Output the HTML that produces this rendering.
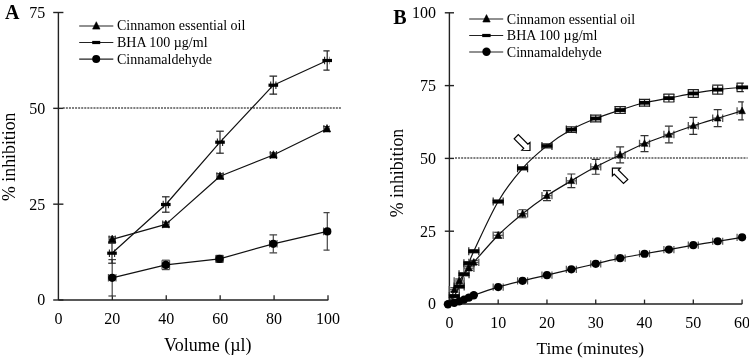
<!DOCTYPE html>
<html><head><meta charset="utf-8"><style>
html,body{margin:0;padding:0;background:#fff;width:749px;height:360px;overflow:hidden}
svg{display:block;will-change:transform}
text{font-family:"Liberation Serif", serif;fill:#000}
</style></head><body>
<svg width="749" height="360" viewBox="0 0 749 360">
<rect width="749" height="360" fill="#fff"/>
<defs><clipPath id="ca"><rect x="0" y="0" width="329.6" height="360"/></clipPath><clipPath id="cb"><rect x="380" y="0" width="363.8" height="360"/></clipPath></defs>
<line x1="58.40" y1="12.50" x2="58.40" y2="300.00" stroke="#222" stroke-width="1.4"/>
<line x1="58.40" y1="300.00" x2="328.30" y2="300.00" stroke="#222" stroke-width="1.4"/>
<line x1="53.20" y1="300.00" x2="63.40" y2="300.00" stroke="#222" stroke-width="1.4"/>
<text x="45.2" y="305.40" font-size="16" text-anchor="end" font-weight="normal" >0</text>
<line x1="53.20" y1="204.17" x2="63.40" y2="204.17" stroke="#222" stroke-width="1.4"/>
<text x="45.2" y="209.57" font-size="16" text-anchor="end" font-weight="normal" >25</text>
<line x1="53.20" y1="108.34" x2="63.40" y2="108.34" stroke="#222" stroke-width="1.4"/>
<text x="45.2" y="113.74" font-size="16" text-anchor="end" font-weight="normal" >50</text>
<line x1="53.20" y1="12.50" x2="63.40" y2="12.50" stroke="#222" stroke-width="1.4"/>
<text x="45.2" y="17.90" font-size="16" text-anchor="end" font-weight="normal" >75</text>
<line x1="112.32" y1="295.30" x2="112.32" y2="300.00" stroke="#222" stroke-width="1.3"/>
<line x1="166.24" y1="295.30" x2="166.24" y2="300.00" stroke="#222" stroke-width="1.3"/>
<line x1="220.16" y1="295.30" x2="220.16" y2="300.00" stroke="#222" stroke-width="1.3"/>
<line x1="274.08" y1="295.30" x2="274.08" y2="300.00" stroke="#222" stroke-width="1.3"/>
<line x1="328.00" y1="295.30" x2="328.00" y2="300.00" stroke="#222" stroke-width="1.3"/>
<text x="58.40" y="324.2" font-size="16" text-anchor="middle" font-weight="normal" >0</text>
<text x="112.32" y="324.2" font-size="16" text-anchor="middle" font-weight="normal" >20</text>
<text x="166.24" y="324.2" font-size="16" text-anchor="middle" font-weight="normal" >40</text>
<text x="220.16" y="324.2" font-size="16" text-anchor="middle" font-weight="normal" >60</text>
<text x="274.08" y="324.2" font-size="16" text-anchor="middle" font-weight="normal" >80</text>
<text x="328.00" y="324.2" font-size="16" text-anchor="middle" font-weight="normal" >100</text>
<line x1="62.80" y1="108.00" x2="341.20" y2="108.00" stroke="#555" stroke-width="1.7" stroke-dasharray="2 1.068"/>
<text x="207.8" y="350.6" font-size="18" text-anchor="middle" font-weight="normal" >Volume (&#181;l)</text>
<text x="0" y="0" font-size="17.8" text-anchor="middle" font-weight="normal" transform="translate(15.4,156.7) rotate(-90)">% inhibition</text>
<text x="5.0" y="18.8" font-size="20" text-anchor="start" font-weight="bold" >A</text>
<g clip-path="url(#ca)"><line x1="112.20" y1="259.60" x2="112.20" y2="296.00" stroke="#444" stroke-width="1.2"/><line x1="108.40" y1="259.60" x2="116.00" y2="259.60" stroke="#444" stroke-width="1.2"/><line x1="108.40" y1="296.00" x2="116.00" y2="296.00" stroke="#444" stroke-width="1.2"/><line x1="165.80" y1="260.20" x2="165.80" y2="269.60" stroke="#444" stroke-width="1.2"/><line x1="162.00" y1="260.20" x2="169.60" y2="260.20" stroke="#444" stroke-width="1.2"/><line x1="162.00" y1="269.60" x2="169.60" y2="269.60" stroke="#444" stroke-width="1.2"/><line x1="219.50" y1="255.40" x2="219.50" y2="262.40" stroke="#444" stroke-width="1.2"/><line x1="215.70" y1="255.40" x2="223.30" y2="255.40" stroke="#444" stroke-width="1.2"/><line x1="215.70" y1="262.40" x2="223.30" y2="262.40" stroke="#444" stroke-width="1.2"/><line x1="273.30" y1="234.80" x2="273.30" y2="252.80" stroke="#444" stroke-width="1.2"/><line x1="269.50" y1="234.80" x2="277.10" y2="234.80" stroke="#444" stroke-width="1.2"/><line x1="269.50" y1="252.80" x2="277.10" y2="252.80" stroke="#444" stroke-width="1.2"/><line x1="327.30" y1="212.60" x2="327.30" y2="250.20" stroke="#444" stroke-width="1.2"/><line x1="323.50" y1="212.60" x2="331.10" y2="212.60" stroke="#444" stroke-width="1.2"/><line x1="323.50" y1="250.20" x2="331.10" y2="250.20" stroke="#444" stroke-width="1.2"/><line x1="112.00" y1="243.20" x2="112.00" y2="263.20" stroke="#222" stroke-width="1.2"/><line x1="108.20" y1="243.20" x2="115.80" y2="243.20" stroke="#222" stroke-width="1.2"/><line x1="108.20" y1="263.20" x2="115.80" y2="263.20" stroke="#222" stroke-width="1.2"/><line x1="165.80" y1="196.80" x2="165.80" y2="212.20" stroke="#222" stroke-width="1.2"/><line x1="162.00" y1="196.80" x2="169.60" y2="196.80" stroke="#222" stroke-width="1.2"/><line x1="162.00" y1="212.20" x2="169.60" y2="212.20" stroke="#222" stroke-width="1.2"/><line x1="220.00" y1="131.20" x2="220.00" y2="153.20" stroke="#222" stroke-width="1.2"/><line x1="216.20" y1="131.20" x2="223.80" y2="131.20" stroke="#222" stroke-width="1.2"/><line x1="216.20" y1="153.20" x2="223.80" y2="153.20" stroke="#222" stroke-width="1.2"/><line x1="273.30" y1="76.20" x2="273.30" y2="94.20" stroke="#222" stroke-width="1.2"/><line x1="269.50" y1="76.20" x2="277.10" y2="76.20" stroke="#222" stroke-width="1.2"/><line x1="269.50" y1="94.20" x2="277.10" y2="94.20" stroke="#222" stroke-width="1.2"/><line x1="327.20" y1="50.90" x2="327.20" y2="70.10" stroke="#222" stroke-width="1.2"/><line x1="323.40" y1="50.90" x2="331.00" y2="50.90" stroke="#222" stroke-width="1.2"/><line x1="323.40" y1="70.10" x2="331.00" y2="70.10" stroke="#222" stroke-width="1.2"/><line x1="112.20" y1="236.90" x2="112.20" y2="241.90" stroke="#333" stroke-width="1.2"/><line x1="108.40" y1="236.90" x2="116.00" y2="236.90" stroke="#333" stroke-width="1.2"/><line x1="108.40" y1="241.90" x2="116.00" y2="241.90" stroke="#333" stroke-width="1.2"/><line x1="165.80" y1="222.20" x2="165.80" y2="226.60" stroke="#333" stroke-width="1.2"/><line x1="162.00" y1="222.20" x2="169.60" y2="222.20" stroke="#333" stroke-width="1.2"/><line x1="162.00" y1="226.60" x2="169.60" y2="226.60" stroke="#333" stroke-width="1.2"/><line x1="220.00" y1="173.70" x2="220.00" y2="178.70" stroke="#333" stroke-width="1.2"/><line x1="216.20" y1="173.70" x2="223.80" y2="173.70" stroke="#333" stroke-width="1.2"/><line x1="216.20" y1="178.70" x2="223.80" y2="178.70" stroke="#333" stroke-width="1.2"/><line x1="273.40" y1="152.80" x2="273.40" y2="157.20" stroke="#333" stroke-width="1.2"/><line x1="269.60" y1="152.80" x2="277.20" y2="152.80" stroke="#333" stroke-width="1.2"/><line x1="269.60" y1="157.20" x2="277.20" y2="157.20" stroke="#333" stroke-width="1.2"/><line x1="327.00" y1="126.60" x2="327.00" y2="131.00" stroke="#333" stroke-width="1.2"/><line x1="323.20" y1="126.60" x2="330.80" y2="126.60" stroke="#333" stroke-width="1.2"/><line x1="323.20" y1="131.00" x2="330.80" y2="131.00" stroke="#333" stroke-width="1.2"/><line x1="109.10" y1="239.40" x2="115.30" y2="239.40" stroke="#333" stroke-width="1.1"/><line x1="109.10" y1="235.50" x2="109.10" y2="243.30" stroke="#333" stroke-width="1.1"/><line x1="115.30" y1="235.50" x2="115.30" y2="243.30" stroke="#333" stroke-width="1.1"/><line x1="162.70" y1="224.40" x2="168.90" y2="224.40" stroke="#333" stroke-width="1.1"/><line x1="162.70" y1="220.50" x2="162.70" y2="228.30" stroke="#333" stroke-width="1.1"/><line x1="168.90" y1="220.50" x2="168.90" y2="228.30" stroke="#333" stroke-width="1.1"/><line x1="216.90" y1="176.20" x2="223.10" y2="176.20" stroke="#333" stroke-width="1.1"/><line x1="216.90" y1="172.30" x2="216.90" y2="180.10" stroke="#333" stroke-width="1.1"/><line x1="223.10" y1="172.30" x2="223.10" y2="180.10" stroke="#333" stroke-width="1.1"/><line x1="270.30" y1="155.00" x2="276.50" y2="155.00" stroke="#333" stroke-width="1.1"/><line x1="270.30" y1="151.10" x2="270.30" y2="158.90" stroke="#333" stroke-width="1.1"/><line x1="276.50" y1="151.10" x2="276.50" y2="158.90" stroke="#333" stroke-width="1.1"/><line x1="323.90" y1="128.80" x2="330.10" y2="128.80" stroke="#333" stroke-width="1.1"/><line x1="323.90" y1="124.90" x2="323.90" y2="132.70" stroke="#333" stroke-width="1.1"/><line x1="330.10" y1="124.90" x2="330.10" y2="132.70" stroke="#333" stroke-width="1.1"/><line x1="109.40" y1="253.20" x2="114.60" y2="253.20" stroke="#222" stroke-width="1.1"/><line x1="109.40" y1="249.50" x2="109.40" y2="256.90" stroke="#222" stroke-width="1.1"/><line x1="114.60" y1="249.50" x2="114.60" y2="256.90" stroke="#222" stroke-width="1.1"/><line x1="163.20" y1="204.50" x2="168.40" y2="204.50" stroke="#222" stroke-width="1.1"/><line x1="163.20" y1="200.80" x2="163.20" y2="208.20" stroke="#222" stroke-width="1.1"/><line x1="168.40" y1="200.80" x2="168.40" y2="208.20" stroke="#222" stroke-width="1.1"/><line x1="217.40" y1="142.20" x2="222.60" y2="142.20" stroke="#222" stroke-width="1.1"/><line x1="217.40" y1="138.50" x2="217.40" y2="145.90" stroke="#222" stroke-width="1.1"/><line x1="222.60" y1="138.50" x2="222.60" y2="145.90" stroke="#222" stroke-width="1.1"/><line x1="270.70" y1="85.20" x2="275.90" y2="85.20" stroke="#222" stroke-width="1.1"/><line x1="270.70" y1="81.50" x2="270.70" y2="88.90" stroke="#222" stroke-width="1.1"/><line x1="275.90" y1="81.50" x2="275.90" y2="88.90" stroke="#222" stroke-width="1.1"/><line x1="324.60" y1="60.50" x2="329.80" y2="60.50" stroke="#222" stroke-width="1.1"/><line x1="324.60" y1="56.80" x2="324.60" y2="64.20" stroke="#222" stroke-width="1.1"/><line x1="329.80" y1="56.80" x2="329.80" y2="64.20" stroke="#222" stroke-width="1.1"/><line x1="108.40" y1="277.80" x2="116.00" y2="277.80" stroke="#555" stroke-width="1.1"/><line x1="108.40" y1="274.00" x2="108.40" y2="281.60" stroke="#555" stroke-width="1.1"/><line x1="116.00" y1="274.00" x2="116.00" y2="281.60" stroke="#555" stroke-width="1.1"/><line x1="162.00" y1="264.90" x2="169.60" y2="264.90" stroke="#555" stroke-width="1.1"/><line x1="162.00" y1="260.20" x2="162.00" y2="269.60" stroke="#555" stroke-width="1.1"/><line x1="169.60" y1="260.20" x2="169.60" y2="269.60" stroke="#555" stroke-width="1.1"/><line x1="215.70" y1="258.90" x2="223.30" y2="258.90" stroke="#555" stroke-width="1.1"/><line x1="215.70" y1="255.30" x2="215.70" y2="262.50" stroke="#555" stroke-width="1.1"/><line x1="223.30" y1="255.30" x2="223.30" y2="262.50" stroke="#555" stroke-width="1.1"/><line x1="269.50" y1="243.80" x2="277.10" y2="243.80" stroke="#555" stroke-width="1.1"/><line x1="269.50" y1="240.00" x2="269.50" y2="247.60" stroke="#555" stroke-width="1.1"/><line x1="277.10" y1="240.00" x2="277.10" y2="247.60" stroke="#555" stroke-width="1.1"/><line x1="323.50" y1="231.40" x2="331.10" y2="231.40" stroke="#555" stroke-width="1.1"/><line x1="323.50" y1="227.60" x2="323.50" y2="235.20" stroke="#555" stroke-width="1.1"/><line x1="331.10" y1="227.60" x2="331.10" y2="235.20" stroke="#555" stroke-width="1.1"/></g>
<polyline points="112.20,239.40 165.80,224.40 220.00,176.20 273.40,155.00 327.00,128.80" fill="none" stroke="#111" stroke-width="1.2" stroke-linejoin="round"/>
<polyline points="112.00,253.20 165.80,204.50 220.00,142.20 273.30,85.20 327.20,60.50" fill="none" stroke="#111" stroke-width="1.2" stroke-linejoin="round"/>
<polyline points="112.20,277.80 165.80,264.90 219.50,258.90 273.30,243.80 327.30,231.40" fill="none" stroke="#111" stroke-width="1.2" stroke-linejoin="round"/>
<polygon points="108.50,242.51 115.90,242.51 112.20,235.11" fill="#000" stroke="#000" stroke-width="0.6" stroke-linejoin="round"/>
<polygon points="162.10,227.51 169.50,227.51 165.80,220.11" fill="#000" stroke="#000" stroke-width="0.6" stroke-linejoin="round"/>
<polygon points="216.30,179.31 223.70,179.31 220.00,171.91" fill="#000" stroke="#000" stroke-width="0.6" stroke-linejoin="round"/>
<polygon points="269.70,158.11 277.10,158.11 273.40,150.71" fill="#000" stroke="#000" stroke-width="0.6" stroke-linejoin="round"/>
<polygon points="323.30,131.91 330.70,131.91 327.00,124.51" fill="#000" stroke="#000" stroke-width="0.6" stroke-linejoin="round"/>
<rect x="107.20" y="251.60" width="9.6" height="3.2" fill="#000"/>
<rect x="161.00" y="202.90" width="9.6" height="3.2" fill="#000"/>
<rect x="215.20" y="140.60" width="9.6" height="3.2" fill="#000"/>
<rect x="268.50" y="83.60" width="9.6" height="3.2" fill="#000"/>
<rect x="322.40" y="58.90" width="9.6" height="3.2" fill="#000"/>
<circle cx="112.20" cy="277.80" r="4.1" fill="#000"/>
<circle cx="165.80" cy="264.90" r="4.1" fill="#000"/>
<circle cx="219.50" cy="258.90" r="4.1" fill="#000"/>
<circle cx="273.30" cy="243.80" r="4.1" fill="#000"/>
<circle cx="327.30" cy="231.40" r="4.1" fill="#000"/>
<line x1="79.20" y1="26.00" x2="113.30" y2="26.00" stroke="#222" stroke-width="1.2"/>
<polygon points="92.60,29.11 100.00,29.11 96.30,21.71" fill="#000" stroke="#000" stroke-width="0.6" stroke-linejoin="round"/>
<text x="117.0" y="30.2" font-size="14" text-anchor="start" font-weight="normal" >Cinnamon essential oil</text>
<line x1="79.20" y1="42.50" x2="113.30" y2="42.50" stroke="#222" stroke-width="1.2"/>
<rect x="92.2" y="40.9" width="8" height="3.2" fill="#000"/>
<text x="117.0" y="47.1" font-size="14" text-anchor="start" font-weight="normal" >BHA 100 &#181;g/ml</text>
<line x1="79.20" y1="59.20" x2="113.30" y2="59.20" stroke="#222" stroke-width="1.2"/>
<circle cx="96.20" cy="59.00" r="4.0" fill="#000"/>
<text x="117.0" y="63.6" font-size="14" text-anchor="start" font-weight="normal" >Cinnamaldehyde</text>
<line x1="449.40" y1="12.80" x2="449.40" y2="304.00" stroke="#222" stroke-width="1.4"/>
<line x1="449.40" y1="304.00" x2="742.20" y2="304.00" stroke="#222" stroke-width="1.3"/>
<line x1="444.80" y1="304.00" x2="454.00" y2="304.00" stroke="#222" stroke-width="1.4"/>
<text x="436.0" y="309.40" font-size="16" text-anchor="end" font-weight="normal" >0</text>
<line x1="444.80" y1="231.20" x2="454.00" y2="231.20" stroke="#222" stroke-width="1.4"/>
<text x="436.0" y="236.60" font-size="16" text-anchor="end" font-weight="normal" >25</text>
<line x1="444.80" y1="158.40" x2="454.00" y2="158.40" stroke="#222" stroke-width="1.4"/>
<text x="436.0" y="163.80" font-size="16" text-anchor="end" font-weight="normal" >50</text>
<line x1="444.80" y1="85.60" x2="454.00" y2="85.60" stroke="#222" stroke-width="1.4"/>
<text x="436.0" y="91.00" font-size="16" text-anchor="end" font-weight="normal" >75</text>
<line x1="444.80" y1="12.80" x2="454.00" y2="12.80" stroke="#222" stroke-width="1.4"/>
<text x="436.0" y="18.20" font-size="16" text-anchor="end" font-weight="normal" >100</text>
<line x1="498.18" y1="299.60" x2="498.18" y2="304.00" stroke="#222" stroke-width="1.3"/>
<line x1="546.96" y1="299.60" x2="546.96" y2="304.00" stroke="#222" stroke-width="1.3"/>
<line x1="595.74" y1="299.60" x2="595.74" y2="304.00" stroke="#222" stroke-width="1.3"/>
<line x1="644.52" y1="299.60" x2="644.52" y2="304.00" stroke="#222" stroke-width="1.3"/>
<line x1="693.30" y1="299.60" x2="693.30" y2="304.00" stroke="#222" stroke-width="1.3"/>
<line x1="742.08" y1="299.60" x2="742.08" y2="304.00" stroke="#222" stroke-width="1.3"/>
<text x="449.40" y="328.4" font-size="16" text-anchor="middle" font-weight="normal" >0</text>
<text x="498.18" y="328.4" font-size="16" text-anchor="middle" font-weight="normal" >10</text>
<text x="546.96" y="328.4" font-size="16" text-anchor="middle" font-weight="normal" >20</text>
<text x="595.74" y="328.4" font-size="16" text-anchor="middle" font-weight="normal" >30</text>
<text x="644.52" y="328.4" font-size="16" text-anchor="middle" font-weight="normal" >40</text>
<text x="693.30" y="328.4" font-size="16" text-anchor="middle" font-weight="normal" >50</text>
<text x="742.08" y="328.4" font-size="16" text-anchor="middle" font-weight="normal" >60</text>
<line x1="455.00" y1="158.00" x2="747.60" y2="158.00" stroke="#555" stroke-width="1.7" stroke-dasharray="2 1.069"/>
<text x="590.3" y="354.2" font-size="17.5" text-anchor="middle" font-weight="normal" >Time (minutes)</text>
<text x="0" y="0" font-size="17.8" text-anchor="middle" font-weight="normal" transform="translate(403.0,173.0) rotate(-90)">% inhibition</text>
<text x="393.2" y="23.9" font-size="20" text-anchor="start" font-weight="bold" >B</text>
<g clip-path="url(#cb)"><line x1="493.18" y1="287.11" x2="503.18" y2="287.11" stroke="#555" stroke-width="1.2"/><line x1="493.18" y1="283.51" x2="493.18" y2="290.71" stroke="#555" stroke-width="1.2"/><line x1="503.18" y1="283.51" x2="503.18" y2="290.71" stroke="#555" stroke-width="1.2"/><line x1="517.57" y1="280.85" x2="527.57" y2="280.85" stroke="#555" stroke-width="1.2"/><line x1="517.57" y1="277.25" x2="517.57" y2="284.45" stroke="#555" stroke-width="1.2"/><line x1="527.57" y1="277.25" x2="527.57" y2="284.45" stroke="#555" stroke-width="1.2"/><line x1="541.96" y1="275.17" x2="551.96" y2="275.17" stroke="#555" stroke-width="1.2"/><line x1="541.96" y1="271.57" x2="541.96" y2="278.77" stroke="#555" stroke-width="1.2"/><line x1="551.96" y1="271.57" x2="551.96" y2="278.77" stroke="#555" stroke-width="1.2"/><line x1="566.35" y1="269.35" x2="576.35" y2="269.35" stroke="#555" stroke-width="1.2"/><line x1="566.35" y1="265.75" x2="566.35" y2="272.95" stroke="#555" stroke-width="1.2"/><line x1="576.35" y1="265.75" x2="576.35" y2="272.95" stroke="#555" stroke-width="1.2"/><line x1="590.74" y1="263.81" x2="600.74" y2="263.81" stroke="#555" stroke-width="1.2"/><line x1="590.74" y1="260.21" x2="590.74" y2="267.41" stroke="#555" stroke-width="1.2"/><line x1="600.74" y1="260.21" x2="600.74" y2="267.41" stroke="#555" stroke-width="1.2"/><line x1="615.13" y1="258.14" x2="625.13" y2="258.14" stroke="#555" stroke-width="1.2"/><line x1="615.13" y1="254.54" x2="615.13" y2="261.74" stroke="#555" stroke-width="1.2"/><line x1="625.13" y1="254.54" x2="625.13" y2="261.74" stroke="#555" stroke-width="1.2"/><line x1="639.52" y1="253.77" x2="649.52" y2="253.77" stroke="#555" stroke-width="1.2"/><line x1="639.52" y1="250.17" x2="639.52" y2="257.37" stroke="#555" stroke-width="1.2"/><line x1="649.52" y1="250.17" x2="649.52" y2="257.37" stroke="#555" stroke-width="1.2"/><line x1="663.91" y1="249.55" x2="673.91" y2="249.55" stroke="#555" stroke-width="1.2"/><line x1="663.91" y1="245.95" x2="663.91" y2="253.15" stroke="#555" stroke-width="1.2"/><line x1="673.91" y1="245.95" x2="673.91" y2="253.15" stroke="#555" stroke-width="1.2"/><line x1="688.30" y1="245.18" x2="698.30" y2="245.18" stroke="#555" stroke-width="1.2"/><line x1="688.30" y1="241.58" x2="688.30" y2="248.78" stroke="#555" stroke-width="1.2"/><line x1="698.30" y1="241.58" x2="698.30" y2="248.78" stroke="#555" stroke-width="1.2"/><line x1="712.69" y1="241.25" x2="722.69" y2="241.25" stroke="#555" stroke-width="1.2"/><line x1="712.69" y1="237.65" x2="712.69" y2="244.85" stroke="#555" stroke-width="1.2"/><line x1="722.69" y1="237.65" x2="722.69" y2="244.85" stroke="#555" stroke-width="1.2"/><line x1="737.08" y1="237.32" x2="747.08" y2="237.32" stroke="#555" stroke-width="1.2"/><line x1="737.08" y1="233.72" x2="737.08" y2="240.92" stroke="#555" stroke-width="1.2"/><line x1="747.08" y1="233.72" x2="747.08" y2="240.92" stroke="#555" stroke-width="1.2"/><line x1="454.28" y1="287.73" x2="454.28" y2="291.73" stroke="#333" stroke-width="1.2"/><line x1="450.28" y1="287.73" x2="458.28" y2="287.73" stroke="#333" stroke-width="1.2"/><line x1="450.28" y1="291.73" x2="458.28" y2="291.73" stroke="#333" stroke-width="1.2"/><line x1="449.28" y1="289.73" x2="459.28" y2="289.73" stroke="#555" stroke-width="1.3"/><line x1="449.28" y1="286.03" x2="449.28" y2="293.43" stroke="#555" stroke-width="1.3"/><line x1="459.28" y1="286.03" x2="459.28" y2="293.43" stroke="#555" stroke-width="1.3"/><line x1="459.16" y1="279.00" x2="459.16" y2="283.00" stroke="#333" stroke-width="1.2"/><line x1="455.16" y1="279.00" x2="463.16" y2="279.00" stroke="#333" stroke-width="1.2"/><line x1="455.16" y1="283.00" x2="463.16" y2="283.00" stroke="#333" stroke-width="1.2"/><line x1="454.16" y1="281.00" x2="464.16" y2="281.00" stroke="#555" stroke-width="1.3"/><line x1="454.16" y1="277.30" x2="454.16" y2="284.70" stroke="#555" stroke-width="1.3"/><line x1="464.16" y1="277.30" x2="464.16" y2="284.70" stroke="#555" stroke-width="1.3"/><line x1="468.91" y1="266.18" x2="468.91" y2="270.18" stroke="#333" stroke-width="1.2"/><line x1="464.91" y1="266.18" x2="472.91" y2="266.18" stroke="#333" stroke-width="1.2"/><line x1="464.91" y1="270.18" x2="472.91" y2="270.18" stroke="#333" stroke-width="1.2"/><line x1="463.91" y1="268.18" x2="473.91" y2="268.18" stroke="#555" stroke-width="1.3"/><line x1="463.91" y1="264.48" x2="463.91" y2="271.88" stroke="#555" stroke-width="1.3"/><line x1="473.91" y1="264.48" x2="473.91" y2="271.88" stroke="#555" stroke-width="1.3"/><line x1="473.79" y1="260.36" x2="473.79" y2="264.36" stroke="#333" stroke-width="1.2"/><line x1="469.79" y1="260.36" x2="477.79" y2="260.36" stroke="#333" stroke-width="1.2"/><line x1="469.79" y1="264.36" x2="477.79" y2="264.36" stroke="#333" stroke-width="1.2"/><line x1="468.79" y1="262.36" x2="478.79" y2="262.36" stroke="#555" stroke-width="1.3"/><line x1="468.79" y1="258.66" x2="468.79" y2="266.06" stroke="#555" stroke-width="1.3"/><line x1="478.79" y1="258.66" x2="478.79" y2="266.06" stroke="#555" stroke-width="1.3"/><line x1="498.18" y1="232.28" x2="498.18" y2="238.28" stroke="#333" stroke-width="1.2"/><line x1="494.18" y1="232.28" x2="502.18" y2="232.28" stroke="#333" stroke-width="1.2"/><line x1="494.18" y1="238.28" x2="502.18" y2="238.28" stroke="#333" stroke-width="1.2"/><line x1="493.18" y1="235.28" x2="503.18" y2="235.28" stroke="#555" stroke-width="1.3"/><line x1="493.18" y1="231.58" x2="493.18" y2="238.98" stroke="#555" stroke-width="1.3"/><line x1="503.18" y1="231.58" x2="503.18" y2="238.98" stroke="#555" stroke-width="1.3"/><line x1="522.57" y1="209.73" x2="522.57" y2="217.73" stroke="#333" stroke-width="1.2"/><line x1="518.57" y1="209.73" x2="526.57" y2="209.73" stroke="#333" stroke-width="1.2"/><line x1="518.57" y1="217.73" x2="526.57" y2="217.73" stroke="#333" stroke-width="1.2"/><line x1="517.57" y1="213.73" x2="527.57" y2="213.73" stroke="#555" stroke-width="1.3"/><line x1="517.57" y1="210.03" x2="517.57" y2="217.43" stroke="#555" stroke-width="1.3"/><line x1="527.57" y1="210.03" x2="527.57" y2="217.43" stroke="#555" stroke-width="1.3"/><line x1="546.96" y1="190.67" x2="546.96" y2="200.67" stroke="#333" stroke-width="1.2"/><line x1="542.96" y1="190.67" x2="550.96" y2="190.67" stroke="#333" stroke-width="1.2"/><line x1="542.96" y1="200.67" x2="550.96" y2="200.67" stroke="#333" stroke-width="1.2"/><line x1="541.96" y1="195.67" x2="551.96" y2="195.67" stroke="#555" stroke-width="1.3"/><line x1="541.96" y1="191.97" x2="541.96" y2="199.37" stroke="#555" stroke-width="1.3"/><line x1="551.96" y1="191.97" x2="551.96" y2="199.37" stroke="#555" stroke-width="1.3"/><line x1="571.35" y1="174.02" x2="571.35" y2="187.62" stroke="#333" stroke-width="1.2"/><line x1="567.35" y1="174.02" x2="575.35" y2="174.02" stroke="#333" stroke-width="1.2"/><line x1="567.35" y1="187.62" x2="575.35" y2="187.62" stroke="#333" stroke-width="1.2"/><line x1="566.35" y1="180.82" x2="576.35" y2="180.82" stroke="#555" stroke-width="1.3"/><line x1="566.35" y1="177.12" x2="566.35" y2="184.52" stroke="#555" stroke-width="1.3"/><line x1="576.35" y1="177.12" x2="576.35" y2="184.52" stroke="#555" stroke-width="1.3"/><line x1="595.74" y1="159.44" x2="595.74" y2="174.24" stroke="#333" stroke-width="1.2"/><line x1="591.74" y1="159.44" x2="599.74" y2="159.44" stroke="#333" stroke-width="1.2"/><line x1="591.74" y1="174.24" x2="599.74" y2="174.24" stroke="#333" stroke-width="1.2"/><line x1="590.74" y1="166.84" x2="600.74" y2="166.84" stroke="#555" stroke-width="1.3"/><line x1="590.74" y1="163.14" x2="590.74" y2="170.54" stroke="#555" stroke-width="1.3"/><line x1="600.74" y1="163.14" x2="600.74" y2="170.54" stroke="#555" stroke-width="1.3"/><line x1="620.13" y1="146.91" x2="620.13" y2="162.91" stroke="#333" stroke-width="1.2"/><line x1="616.13" y1="146.91" x2="624.13" y2="146.91" stroke="#333" stroke-width="1.2"/><line x1="616.13" y1="162.91" x2="624.13" y2="162.91" stroke="#333" stroke-width="1.2"/><line x1="615.13" y1="154.91" x2="625.13" y2="154.91" stroke="#555" stroke-width="1.3"/><line x1="615.13" y1="151.21" x2="615.13" y2="158.61" stroke="#555" stroke-width="1.3"/><line x1="625.13" y1="151.21" x2="625.13" y2="158.61" stroke="#555" stroke-width="1.3"/><line x1="644.52" y1="135.55" x2="644.52" y2="151.55" stroke="#333" stroke-width="1.2"/><line x1="640.52" y1="135.55" x2="648.52" y2="135.55" stroke="#333" stroke-width="1.2"/><line x1="640.52" y1="151.55" x2="648.52" y2="151.55" stroke="#333" stroke-width="1.2"/><line x1="639.52" y1="143.55" x2="649.52" y2="143.55" stroke="#555" stroke-width="1.3"/><line x1="639.52" y1="139.85" x2="639.52" y2="147.25" stroke="#555" stroke-width="1.3"/><line x1="649.52" y1="139.85" x2="649.52" y2="147.25" stroke="#555" stroke-width="1.3"/><line x1="668.91" y1="126.22" x2="668.91" y2="142.82" stroke="#333" stroke-width="1.2"/><line x1="664.91" y1="126.22" x2="672.91" y2="126.22" stroke="#333" stroke-width="1.2"/><line x1="664.91" y1="142.82" x2="672.91" y2="142.82" stroke="#333" stroke-width="1.2"/><line x1="663.91" y1="134.52" x2="673.91" y2="134.52" stroke="#555" stroke-width="1.3"/><line x1="663.91" y1="130.82" x2="663.91" y2="138.22" stroke="#555" stroke-width="1.3"/><line x1="673.91" y1="130.82" x2="673.91" y2="138.22" stroke="#555" stroke-width="1.3"/><line x1="693.30" y1="117.29" x2="693.30" y2="134.29" stroke="#333" stroke-width="1.2"/><line x1="689.30" y1="117.29" x2="697.30" y2="117.29" stroke="#333" stroke-width="1.2"/><line x1="689.30" y1="134.29" x2="697.30" y2="134.29" stroke="#333" stroke-width="1.2"/><line x1="688.30" y1="125.79" x2="698.30" y2="125.79" stroke="#555" stroke-width="1.3"/><line x1="688.30" y1="122.09" x2="688.30" y2="129.49" stroke="#555" stroke-width="1.3"/><line x1="698.30" y1="122.09" x2="698.30" y2="129.49" stroke="#555" stroke-width="1.3"/><line x1="717.69" y1="109.71" x2="717.69" y2="126.71" stroke="#333" stroke-width="1.2"/><line x1="713.69" y1="109.71" x2="721.69" y2="109.71" stroke="#333" stroke-width="1.2"/><line x1="713.69" y1="126.71" x2="721.69" y2="126.71" stroke="#333" stroke-width="1.2"/><line x1="712.69" y1="118.21" x2="722.69" y2="118.21" stroke="#555" stroke-width="1.3"/><line x1="712.69" y1="114.51" x2="712.69" y2="121.91" stroke="#555" stroke-width="1.3"/><line x1="722.69" y1="114.51" x2="722.69" y2="121.91" stroke="#555" stroke-width="1.3"/><line x1="742.08" y1="101.93" x2="742.08" y2="119.93" stroke="#333" stroke-width="1.2"/><line x1="738.08" y1="101.93" x2="746.08" y2="101.93" stroke="#333" stroke-width="1.2"/><line x1="738.08" y1="119.93" x2="746.08" y2="119.93" stroke="#333" stroke-width="1.2"/><line x1="737.08" y1="110.93" x2="747.08" y2="110.93" stroke="#555" stroke-width="1.3"/><line x1="737.08" y1="107.23" x2="737.08" y2="114.63" stroke="#555" stroke-width="1.3"/><line x1="747.08" y1="107.23" x2="747.08" y2="114.63" stroke="#555" stroke-width="1.3"/><line x1="454.28" y1="294.64" x2="454.28" y2="297.64" stroke="#222" stroke-width="1.2"/><line x1="448.78" y1="294.64" x2="459.78" y2="294.64" stroke="#222" stroke-width="1.2"/><line x1="448.78" y1="297.64" x2="459.78" y2="297.64" stroke="#222" stroke-width="1.2"/><line x1="449.28" y1="296.14" x2="459.28" y2="296.14" stroke="#222" stroke-width="1.2"/><line x1="449.28" y1="292.14" x2="449.28" y2="300.14" stroke="#222" stroke-width="1.2"/><line x1="459.28" y1="292.14" x2="459.28" y2="300.14" stroke="#222" stroke-width="1.2"/><line x1="459.16" y1="285.03" x2="459.16" y2="288.03" stroke="#222" stroke-width="1.2"/><line x1="453.66" y1="285.03" x2="464.66" y2="285.03" stroke="#222" stroke-width="1.2"/><line x1="453.66" y1="288.03" x2="464.66" y2="288.03" stroke="#222" stroke-width="1.2"/><line x1="454.16" y1="286.53" x2="464.16" y2="286.53" stroke="#222" stroke-width="1.2"/><line x1="454.16" y1="282.53" x2="454.16" y2="290.53" stroke="#222" stroke-width="1.2"/><line x1="464.16" y1="282.53" x2="464.16" y2="290.53" stroke="#222" stroke-width="1.2"/><line x1="464.03" y1="272.80" x2="464.03" y2="275.80" stroke="#222" stroke-width="1.2"/><line x1="458.53" y1="272.80" x2="469.53" y2="272.80" stroke="#222" stroke-width="1.2"/><line x1="458.53" y1="275.80" x2="469.53" y2="275.80" stroke="#222" stroke-width="1.2"/><line x1="459.03" y1="274.30" x2="469.03" y2="274.30" stroke="#222" stroke-width="1.2"/><line x1="459.03" y1="270.30" x2="459.03" y2="278.30" stroke="#222" stroke-width="1.2"/><line x1="469.03" y1="270.30" x2="469.03" y2="278.30" stroke="#222" stroke-width="1.2"/><line x1="468.91" y1="261.73" x2="468.91" y2="264.73" stroke="#222" stroke-width="1.2"/><line x1="463.41" y1="261.73" x2="474.41" y2="261.73" stroke="#222" stroke-width="1.2"/><line x1="463.41" y1="264.73" x2="474.41" y2="264.73" stroke="#222" stroke-width="1.2"/><line x1="463.91" y1="263.23" x2="473.91" y2="263.23" stroke="#222" stroke-width="1.2"/><line x1="463.91" y1="259.23" x2="463.91" y2="267.23" stroke="#222" stroke-width="1.2"/><line x1="473.91" y1="259.23" x2="473.91" y2="267.23" stroke="#222" stroke-width="1.2"/><line x1="473.79" y1="249.79" x2="473.79" y2="252.79" stroke="#222" stroke-width="1.2"/><line x1="468.29" y1="249.79" x2="479.29" y2="249.79" stroke="#222" stroke-width="1.2"/><line x1="468.29" y1="252.79" x2="479.29" y2="252.79" stroke="#222" stroke-width="1.2"/><line x1="468.79" y1="251.29" x2="478.79" y2="251.29" stroke="#222" stroke-width="1.2"/><line x1="468.79" y1="247.29" x2="468.79" y2="255.29" stroke="#222" stroke-width="1.2"/><line x1="478.79" y1="247.29" x2="478.79" y2="255.29" stroke="#222" stroke-width="1.2"/><line x1="498.18" y1="200.00" x2="498.18" y2="203.00" stroke="#222" stroke-width="1.2"/><line x1="492.68" y1="200.00" x2="503.68" y2="200.00" stroke="#222" stroke-width="1.2"/><line x1="492.68" y1="203.00" x2="503.68" y2="203.00" stroke="#222" stroke-width="1.2"/><line x1="493.18" y1="201.50" x2="503.18" y2="201.50" stroke="#222" stroke-width="1.2"/><line x1="493.18" y1="197.50" x2="493.18" y2="205.50" stroke="#222" stroke-width="1.2"/><line x1="503.18" y1="197.50" x2="503.18" y2="205.50" stroke="#222" stroke-width="1.2"/><line x1="522.57" y1="166.80" x2="522.57" y2="169.80" stroke="#222" stroke-width="1.2"/><line x1="517.07" y1="166.80" x2="528.07" y2="166.80" stroke="#222" stroke-width="1.2"/><line x1="517.07" y1="169.80" x2="528.07" y2="169.80" stroke="#222" stroke-width="1.2"/><line x1="517.57" y1="168.30" x2="527.57" y2="168.30" stroke="#222" stroke-width="1.2"/><line x1="517.57" y1="164.30" x2="517.57" y2="172.30" stroke="#222" stroke-width="1.2"/><line x1="527.57" y1="164.30" x2="527.57" y2="172.30" stroke="#222" stroke-width="1.2"/><line x1="546.96" y1="143.88" x2="546.96" y2="147.88" stroke="#222" stroke-width="1.2"/><line x1="541.46" y1="143.88" x2="552.46" y2="143.88" stroke="#222" stroke-width="1.2"/><line x1="541.46" y1="147.88" x2="552.46" y2="147.88" stroke="#222" stroke-width="1.2"/><line x1="541.96" y1="145.88" x2="551.96" y2="145.88" stroke="#222" stroke-width="1.2"/><line x1="541.96" y1="141.88" x2="541.96" y2="149.88" stroke="#222" stroke-width="1.2"/><line x1="551.96" y1="141.88" x2="551.96" y2="149.88" stroke="#222" stroke-width="1.2"/><line x1="571.35" y1="126.77" x2="571.35" y2="132.37" stroke="#222" stroke-width="1.2"/><line x1="565.85" y1="126.77" x2="576.85" y2="126.77" stroke="#222" stroke-width="1.2"/><line x1="565.85" y1="132.37" x2="576.85" y2="132.37" stroke="#222" stroke-width="1.2"/><line x1="566.35" y1="129.57" x2="576.35" y2="129.57" stroke="#222" stroke-width="1.2"/><line x1="566.35" y1="125.57" x2="566.35" y2="133.57" stroke="#222" stroke-width="1.2"/><line x1="576.35" y1="125.57" x2="576.35" y2="133.57" stroke="#222" stroke-width="1.2"/><line x1="595.74" y1="115.11" x2="595.74" y2="121.91" stroke="#222" stroke-width="1.2"/><line x1="590.24" y1="115.11" x2="601.24" y2="115.11" stroke="#222" stroke-width="1.2"/><line x1="590.24" y1="121.91" x2="601.24" y2="121.91" stroke="#222" stroke-width="1.2"/><line x1="590.74" y1="118.51" x2="600.74" y2="118.51" stroke="#222" stroke-width="1.2"/><line x1="590.74" y1="114.51" x2="590.74" y2="122.51" stroke="#222" stroke-width="1.2"/><line x1="600.74" y1="114.51" x2="600.74" y2="122.51" stroke="#222" stroke-width="1.2"/><line x1="620.13" y1="106.66" x2="620.13" y2="113.46" stroke="#222" stroke-width="1.2"/><line x1="614.63" y1="106.66" x2="625.63" y2="106.66" stroke="#222" stroke-width="1.2"/><line x1="614.63" y1="113.46" x2="625.63" y2="113.46" stroke="#222" stroke-width="1.2"/><line x1="615.13" y1="110.06" x2="625.13" y2="110.06" stroke="#222" stroke-width="1.2"/><line x1="615.13" y1="106.06" x2="615.13" y2="114.06" stroke="#222" stroke-width="1.2"/><line x1="625.13" y1="106.06" x2="625.13" y2="114.06" stroke="#222" stroke-width="1.2"/><line x1="644.52" y1="99.38" x2="644.52" y2="106.18" stroke="#222" stroke-width="1.2"/><line x1="639.02" y1="99.38" x2="650.02" y2="99.38" stroke="#222" stroke-width="1.2"/><line x1="639.02" y1="106.18" x2="650.02" y2="106.18" stroke="#222" stroke-width="1.2"/><line x1="639.52" y1="102.78" x2="649.52" y2="102.78" stroke="#222" stroke-width="1.2"/><line x1="639.52" y1="98.78" x2="639.52" y2="106.78" stroke="#222" stroke-width="1.2"/><line x1="649.52" y1="98.78" x2="649.52" y2="106.78" stroke="#222" stroke-width="1.2"/><line x1="668.91" y1="94.22" x2="668.91" y2="102.02" stroke="#222" stroke-width="1.2"/><line x1="663.41" y1="94.22" x2="674.41" y2="94.22" stroke="#222" stroke-width="1.2"/><line x1="663.41" y1="102.02" x2="674.41" y2="102.02" stroke="#222" stroke-width="1.2"/><line x1="663.91" y1="98.12" x2="673.91" y2="98.12" stroke="#222" stroke-width="1.2"/><line x1="663.91" y1="94.12" x2="663.91" y2="102.12" stroke="#222" stroke-width="1.2"/><line x1="673.91" y1="94.12" x2="673.91" y2="102.12" stroke="#222" stroke-width="1.2"/><line x1="693.30" y1="89.56" x2="693.30" y2="97.36" stroke="#222" stroke-width="1.2"/><line x1="687.80" y1="89.56" x2="698.80" y2="89.56" stroke="#222" stroke-width="1.2"/><line x1="687.80" y1="97.36" x2="698.80" y2="97.36" stroke="#222" stroke-width="1.2"/><line x1="688.30" y1="93.46" x2="698.30" y2="93.46" stroke="#222" stroke-width="1.2"/><line x1="688.30" y1="89.46" x2="688.30" y2="97.46" stroke="#222" stroke-width="1.2"/><line x1="698.30" y1="89.46" x2="698.30" y2="97.46" stroke="#222" stroke-width="1.2"/><line x1="717.69" y1="85.18" x2="717.69" y2="94.18" stroke="#222" stroke-width="1.2"/><line x1="712.19" y1="85.18" x2="723.19" y2="85.18" stroke="#222" stroke-width="1.2"/><line x1="712.19" y1="94.18" x2="723.19" y2="94.18" stroke="#222" stroke-width="1.2"/><line x1="712.69" y1="89.68" x2="722.69" y2="89.68" stroke="#222" stroke-width="1.2"/><line x1="712.69" y1="85.68" x2="712.69" y2="93.68" stroke="#222" stroke-width="1.2"/><line x1="722.69" y1="85.68" x2="722.69" y2="93.68" stroke="#222" stroke-width="1.2"/><line x1="742.08" y1="83.05" x2="742.08" y2="91.65" stroke="#222" stroke-width="1.2"/><line x1="736.58" y1="83.05" x2="747.58" y2="83.05" stroke="#222" stroke-width="1.2"/><line x1="736.58" y1="91.65" x2="747.58" y2="91.65" stroke="#222" stroke-width="1.2"/><line x1="737.08" y1="87.35" x2="747.08" y2="87.35" stroke="#222" stroke-width="1.2"/><line x1="737.08" y1="83.35" x2="737.08" y2="91.35" stroke="#222" stroke-width="1.2"/><line x1="747.08" y1="83.35" x2="747.08" y2="91.35" stroke="#222" stroke-width="1.2"/></g>
<path d="M447.94,304.29 C448.99,304.05 452.41,303.32 454.28,302.84 C456.15,302.35 457.53,301.91 459.16,301.38 C460.78,300.85 462.41,300.26 464.03,299.63 C465.66,299.00 467.29,298.32 468.91,297.59 C470.54,296.87 468.91,297.01 473.79,295.26 C478.67,293.52 490.05,289.51 498.18,287.11 C506.31,284.71 514.44,282.84 522.57,280.85 C530.70,278.86 538.83,277.09 546.96,275.17 C555.09,273.25 563.22,271.24 571.35,269.35 C579.48,267.45 587.61,265.68 595.74,263.81 C603.87,261.95 612.00,259.81 620.13,258.14 C628.26,256.46 636.39,255.20 644.52,253.77 C652.65,252.34 660.78,250.98 668.91,249.55 C677.04,248.11 685.17,246.56 693.30,245.18 C701.43,243.79 709.56,242.56 717.69,241.25 C725.82,239.94 738.01,237.97 742.08,237.32" fill="none" stroke="#111" stroke-width="1.2"/>
<path d="M449.40,304.00 C450.21,301.62 452.65,293.57 454.28,289.73 C455.90,285.90 457.53,283.62 459.16,281.00 C460.78,278.37 462.41,276.14 464.03,274.01 C465.66,271.87 467.29,270.12 468.91,268.18 C470.54,266.24 468.91,267.84 473.79,262.36 C478.67,256.87 490.05,243.38 498.18,235.28 C506.31,227.17 514.44,220.33 522.57,213.73 C530.70,207.13 538.83,201.16 546.96,195.67 C555.09,190.19 563.22,185.63 571.35,180.82 C579.48,176.02 587.61,171.16 595.74,166.84 C603.87,162.53 612.00,158.79 620.13,154.91 C628.26,151.02 636.39,146.95 644.52,143.55 C652.65,140.15 660.78,137.48 668.91,134.52 C677.04,131.56 685.17,128.50 693.30,125.79 C701.43,123.07 709.56,120.69 717.69,118.21 C725.82,115.74 738.01,112.15 742.08,110.93" fill="none" stroke="#111" stroke-width="1.2"/>
<path d="M449.40,304.00 C450.21,302.69 452.65,299.05 454.28,296.14 C455.90,293.23 457.53,290.17 459.16,286.53 C460.78,282.89 462.41,278.18 464.03,274.30 C465.66,270.41 467.29,267.07 468.91,263.23 C470.54,259.40 468.91,261.58 473.79,251.29 C478.67,241.00 490.05,215.33 498.18,201.50 C506.31,187.67 514.44,177.57 522.57,168.30 C530.70,159.03 538.83,152.33 546.96,145.88 C555.09,139.42 563.22,134.13 571.35,129.57 C579.48,125.01 587.61,121.76 595.74,118.51 C603.87,115.25 612.00,112.68 620.13,110.06 C628.26,107.44 636.39,104.77 644.52,102.78 C652.65,100.79 660.78,99.67 668.91,98.12 C677.04,96.57 685.17,94.87 693.30,93.46 C701.43,92.05 709.56,90.70 717.69,89.68 C725.82,88.66 738.01,87.74 742.08,87.35" fill="none" stroke="#111" stroke-width="1.2"/>
<circle cx="447.94" cy="304.29" r="4.2" fill="#000"/>
<circle cx="454.28" cy="302.84" r="4.2" fill="#000"/>
<circle cx="459.16" cy="301.38" r="4.2" fill="#000"/>
<circle cx="464.03" cy="299.63" r="4.2" fill="#000"/>
<circle cx="468.91" cy="297.59" r="4.2" fill="#000"/>
<circle cx="473.79" cy="295.26" r="4.2" fill="#000"/>
<circle cx="498.18" cy="287.11" r="4.1" fill="#000"/>
<circle cx="522.57" cy="280.85" r="4.1" fill="#000"/>
<circle cx="546.96" cy="275.17" r="4.1" fill="#000"/>
<circle cx="571.35" cy="269.35" r="4.1" fill="#000"/>
<circle cx="595.74" cy="263.81" r="4.1" fill="#000"/>
<circle cx="620.13" cy="258.14" r="4.1" fill="#000"/>
<circle cx="644.52" cy="253.77" r="4.1" fill="#000"/>
<circle cx="668.91" cy="249.55" r="4.1" fill="#000"/>
<circle cx="693.30" cy="245.18" r="4.1" fill="#000"/>
<circle cx="717.69" cy="241.25" r="4.1" fill="#000"/>
<circle cx="742.08" cy="237.32" r="4.1" fill="#000"/>
<polygon points="450.98,292.50 457.58,292.50 454.28,285.90" fill="#000" stroke="#000" stroke-width="0.6" stroke-linejoin="round"/>
<polygon points="455.86,283.77 462.46,283.77 459.16,277.17" fill="#000" stroke="#000" stroke-width="0.6" stroke-linejoin="round"/>
<polygon points="465.61,270.95 472.21,270.95 468.91,264.35" fill="#000" stroke="#000" stroke-width="0.6" stroke-linejoin="round"/>
<polygon points="470.49,265.13 477.09,265.13 473.79,258.53" fill="#000" stroke="#000" stroke-width="0.6" stroke-linejoin="round"/>
<polygon points="494.88,238.05 501.48,238.05 498.18,231.45" fill="#000" stroke="#000" stroke-width="0.6" stroke-linejoin="round"/>
<polygon points="519.27,216.50 525.87,216.50 522.57,209.90" fill="#000" stroke="#000" stroke-width="0.6" stroke-linejoin="round"/>
<polygon points="543.66,198.45 550.26,198.45 546.96,191.85" fill="#000" stroke="#000" stroke-width="0.6" stroke-linejoin="round"/>
<polygon points="568.05,183.59 574.65,183.59 571.35,176.99" fill="#000" stroke="#000" stroke-width="0.6" stroke-linejoin="round"/>
<polygon points="592.44,169.62 599.04,169.62 595.74,163.02" fill="#000" stroke="#000" stroke-width="0.6" stroke-linejoin="round"/>
<polygon points="616.83,157.68 623.43,157.68 620.13,151.08" fill="#000" stroke="#000" stroke-width="0.6" stroke-linejoin="round"/>
<polygon points="641.22,146.32 647.82,146.32 644.52,139.72" fill="#000" stroke="#000" stroke-width="0.6" stroke-linejoin="round"/>
<polygon points="665.61,137.29 672.21,137.29 668.91,130.69" fill="#000" stroke="#000" stroke-width="0.6" stroke-linejoin="round"/>
<polygon points="690.00,128.56 696.60,128.56 693.30,121.96" fill="#000" stroke="#000" stroke-width="0.6" stroke-linejoin="round"/>
<polygon points="714.39,120.99 720.99,120.99 717.69,114.39" fill="#000" stroke="#000" stroke-width="0.6" stroke-linejoin="round"/>
<polygon points="738.78,113.71 745.38,113.71 742.08,107.11" fill="#000" stroke="#000" stroke-width="0.6" stroke-linejoin="round"/>
<rect x="448.78" y="294.54" width="11" height="3.2" fill="#000"/>
<rect x="453.66" y="284.93" width="11" height="3.2" fill="#000"/>
<rect x="458.53" y="272.70" width="11" height="3.2" fill="#000"/>
<rect x="463.41" y="261.63" width="11" height="3.2" fill="#000"/>
<rect x="468.29" y="249.69" width="11" height="3.2" fill="#000"/>
<rect x="492.68" y="199.90" width="11" height="3.2" fill="#000"/>
<rect x="517.07" y="166.70" width="11" height="3.2" fill="#000"/>
<rect x="541.46" y="144.28" width="11" height="3.2" fill="#000"/>
<rect x="565.85" y="127.67" width="11" height="3.8" fill="#000"/>
<rect x="590.24" y="116.61" width="11" height="3.8" fill="#000"/>
<rect x="614.63" y="108.16" width="11" height="3.8" fill="#000"/>
<rect x="639.02" y="100.88" width="11" height="3.8" fill="#000"/>
<rect x="663.41" y="96.22" width="11" height="3.8" fill="#000"/>
<rect x="687.80" y="91.56" width="11" height="3.8" fill="#000"/>
<rect x="712.19" y="87.78" width="11" height="3.8" fill="#000"/>
<rect x="736.08" y="85.45" width="12" height="3.8" fill="#000"/>
<polygon points="514.2,138.8 523.7,148.3 521.8,150.3 530.0,150.5 530.0,142.5 527.9,144.1 518.3,134.5" fill="#fff" stroke="#000" stroke-width="1.2" stroke-linejoin="miter"/>
<polygon points="612.4,168.2 620.3,168.2 618.35,169.95 627.8,179.4 623.5,183.5 614.15,174.15 612.4,175.9" fill="#fff" stroke="#000" stroke-width="1.2" stroke-linejoin="miter"/>
<line x1="469.20" y1="19.00" x2="503.20" y2="19.00" stroke="#222" stroke-width="1.2"/>
<polygon points="482.80,22.01 490.20,22.01 486.50,14.61" fill="#000" stroke="#000" stroke-width="0.6" stroke-linejoin="round"/>
<text x="506.8" y="23.6" font-size="14" text-anchor="start" font-weight="normal" >Cinnamon essential oil</text>
<line x1="469.20" y1="35.50" x2="503.20" y2="35.50" stroke="#222" stroke-width="1.2"/>
<rect x="482.2" y="33.9" width="8.4" height="3.2" fill="#000"/>
<text x="506.8" y="40.4" font-size="14" text-anchor="start" font-weight="normal" >BHA 100 &#181;g/ml</text>
<line x1="469.20" y1="52.00" x2="503.20" y2="52.00" stroke="#222" stroke-width="1.2"/>
<circle cx="486.50" cy="51.80" r="4.2" fill="#000"/>
<text x="506.8" y="56.8" font-size="14" text-anchor="start" font-weight="normal" >Cinnamaldehyde</text>
</svg>
</body></html>
